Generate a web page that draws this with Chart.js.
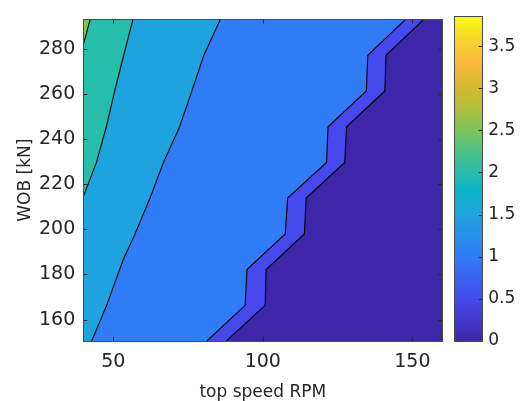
<!DOCTYPE html>
<html>
<head>
<meta charset="utf-8">
<script src="https://cdn.jsdelivr.net/npm/chart.js@4.4.0/dist/chart.umd.min.js"></script>
<style>
html,body{margin:0;padding:0;background:#fff;}
#wrap{position:relative;width:522px;height:401px;}
#main{position:absolute;left:0;top:0;width:522px;height:401px;}
#bar{position:absolute;left:440px;top:0;width:82px;height:401px;}
</style>
</head>
<body>
<div id="wrap">
  <div id="main"><canvas id="contour"></canvas></div>
  <div id="bar"><canvas id="colorbar"></canvas></div>
</div>
<script>
/* ============================================================
   DATA  (top speed RPM vs WOB kN, filled contours)
============================================================ */

const xLimits = [40, 160];
const yLimits = [150.5, 293.1];
const xTicks = [50, 100, 150];
const yTicks = [160, 180, 200, 220, 240, 260, 280];

const cbLimits = [0, 3.855];
const cbTicks = [0, 0.5, 1, 1.5, 2, 2.5, 3, 3.5];

// contour levels and the lines, [rpm, kN]
const levels = [0.5, 1.0, 1.5, 2.0, 2.5];
const contour05 = [[87.8,150.5],[100.8,166.3],[101.1,182.2],[113.9,198.0],[114.5,213.9],[127.4,229.7],[128.0,245.5],[140.8,261.4],[141.2,277.2],[153.8,293.1]];
const contour10 = [[81.3,150.5],[94.1,166.3],[94.7,182.2],[107.5,198.0],[108.3,213.9],[121.3,229.7],[121.8,245.5],[134.6,261.4],[135.1,277.2],[147.7,293.1]];
const contour15 = [[42.8,150.5],[47.8,166.3],[53.3,186.4],[57.3,198.0],[62.3,213.9],[66.8,229.7],[72.2,245.5],[76.3,261.4],[80.3,277.2],[85.8,293.1]];
const contour20 = [[40,214.5],[44.4,229.7],[47.7,245.5],[50.5,261.4],[53.5,277.2],[56.6,293.1]];
const contour25 = [[40,281.8],[42.3,293.1]];


/* ============================================================
   COLOURS (parula)
============================================================ */

const parula = [
    [0.000,"#3e26a8"],
    [0.130,"#4549ec"],
    [0.259,"#307bf6"],
    [0.389,"#1fa3df"],
    [0.460,"#0cb4ca"],
    [0.519,"#27bdab"],
    [0.600,"#58c27c"],
    [0.649,"#7dc45c"],
    [0.720,"#b3bf3c"],
    [0.778,"#d4b92f"],
    [0.860,"#fbba3d"],
    [0.930,"#f5d92b"],
    [1.000,"#f9fb0e"]
];

const bandColors = ["#3e26a8","#4549ec","#307bf6","#1fa3df","#27bdab","#7dc45c"];

const textColor = "#262626";
const fontFamily = "'DejaVu Sans', sans-serif";


/* ============================================================
   HELPERS
============================================================ */

function toPoints(arr){
    return arr.map(p => ({x:p[0], y:p[1]}));
}

// region above a contour level = left of the line, closed along the axes
function regionOf(line){
    const pts = toPoints(line);
    pts.push({x:xLimits[0], y:yLimits[1]});
    if(line[0][0] !== xLimits[0]){
        pts.push({x:xLimits[0], y:line[0][1]});
    }
    return pts;
}

const boxPlugin = {
    id:"box",
    afterDraw(chart){
        const {ctx, chartArea:a, scales} = chart;
        ctx.save();
        ctx.strokeStyle = textColor;
        ctx.lineWidth = 1;
        ctx.beginPath();
        xTicks.forEach(v => {
            const px = Math.round(scales.x.getPixelForValue(v)) + 0.5;
            ctx.moveTo(px, a.bottom); ctx.lineTo(px, a.bottom - 4);
            ctx.moveTo(px, a.top); ctx.lineTo(px, a.top + 4);
        });
        yTicks.forEach(v => {
            const py = Math.round(scales.y.getPixelForValue(v)) + 0.5;
            ctx.moveTo(a.left, py); ctx.lineTo(a.left + 4, py);
            ctx.moveTo(a.right, py); ctx.lineTo(a.right - 4, py);
        });
        ctx.stroke();
        ctx.strokeStyle = "#4a4a4a";
        ctx.strokeRect(Math.round(a.left) + 0.5, Math.round(a.top) + 0.5,
            Math.round(a.right - a.left), Math.round(a.bottom - a.top));
        ctx.restore();
    }
};


/* ============================================================
   CONTOUR PLOT
============================================================ */

const contours = [contour05, contour10, contour15, contour20, contour25];

const datasets = [];

datasets.push({
    data:[
        {x:xLimits[0], y:yLimits[0]},
        {x:xLimits[1], y:yLimits[0]},
        {x:xLimits[1], y:yLimits[1]},
        {x:xLimits[0], y:yLimits[1]}
    ],
    showLine:true,
    fill:"shape",
    backgroundColor:bandColors[0],
    borderWidth:0,
    pointRadius:0,
    order:20
});

contours.forEach((line, i) => {
    datasets.push({
        label:"≥ " + levels[i],
        data:regionOf(line),
        showLine:true,
        fill:"shape",
        backgroundColor:bandColors[i + 1],
        borderWidth:0,
        pointRadius:0,
        order:19 - i
    });
});

contours.forEach((line, i) => {
    datasets.push({
        label:"level " + levels[i],
        data:toPoints(line),
        showLine:true,
        fill:false,
        borderColor:"#000000",
        borderWidth:1.1,
        pointRadius:0,
        order:1
    });
});

new Chart(document.getElementById("contour"),{

    type:"scatter",

    data:{ datasets:datasets },

    options:{
        responsive:true,
        maintainAspectRatio:false,
        animation:false,
        events:[],
        layout:{ padding:{ left:0, right:79.7, top:12, bottom:0 } },
        plugins:{
            legend:{ display:false },
            tooltip:{ enabled:false }
        },
        scales:{
            x:{
                type:"linear",
                min:xLimits[0],
                max:xLimits[1],
                afterBuildTicks:s => { s.ticks = xTicks.map(v => ({value:v})); },
                afterFit:s => { s.height = 60; },
                grid:{ display:false, drawTicks:false },
                border:{ display:false },
                ticks:{ color:textColor, padding:10, font:{ family:fontFamily, size:19 } },
                title:{
                    display:true,
                    text:"top speed RPM",
                    color:textColor,
                    padding:{ top:0, bottom:-2 },
                    font:{ family:fontFamily, size:17 }
                }
            },
            y:{
                type:"linear",
                min:yLimits[0],
                max:yLimits[1],
                afterBuildTicks:s => { s.ticks = yTicks.map(v => ({value:v})); },
                afterFit:s => { s.width = 83.3; },
                grid:{ display:false, drawTicks:false },
                border:{ display:false },
                ticks:{ color:textColor, padding:8, font:{ family:fontFamily, size:19 } },
                title:{
                    display:true,
                    text:"WOB [kN]",
                    color:textColor,
                    padding:{ top:15, bottom:15 },
                    font:{ family:fontFamily, size:17 }
                }
            }
        }
    },

    plugins:[boxPlugin]

});


/* ============================================================
   COLORBAR
============================================================ */

const cbPlugin = {
    id:"cbbox",
    afterDraw(chart){
        const {ctx, chartArea:a, scales} = chart;
        ctx.save();
        ctx.strokeStyle = textColor;
        ctx.lineWidth = 1;
        ctx.beginPath();
        cbTicks.forEach(v => {
            const py = Math.round(scales.y.getPixelForValue(v)) + 0.5;
            ctx.moveTo(a.right, py); ctx.lineTo(a.right - 3.5, py);
        });
        ctx.stroke();
        ctx.strokeStyle = "#4a4a4a";
        ctx.strokeRect(Math.round(a.left) + 0.5, Math.round(a.top) + 0.5,
            Math.round(a.right - a.left), Math.round(a.bottom - a.top));
        ctx.restore();
    }
};

new Chart(document.getElementById("colorbar"),{

    type:"bar",

    data:{
        labels:["z"],
        datasets:[{
            data:[cbLimits],
            barPercentage:1,
            categoryPercentage:1,
            borderWidth:0,
            backgroundColor:(c) => {
                const chart = c.chart;
                if(!chart.chartArea) return bandColors[0];
                const y = chart.scales.y;
                const g = chart.ctx.createLinearGradient(0, y.getPixelForValue(cbLimits[0]), 0, y.getPixelForValue(cbLimits[1]));
                parula.forEach(s => g.addColorStop(s[0], s[1]));
                return g;
            }
        }]
    },

    options:{
        responsive:true,
        maintainAspectRatio:false,
        animation:false,
        events:[],
        layout:{ padding:{ left:14.3, right:0, top:12, bottom:60 } },
        plugins:{
            legend:{ display:false },
            tooltip:{ enabled:false }
        },
        scales:{
            x:{ display:false },
            y:{
                position:"right",
                min:cbLimits[0],
                max:cbLimits[1],
                afterBuildTicks:s => { s.ticks = cbTicks.map(v => ({value:v})); },
                afterFit:s => { s.width = 39.7; },
                grid:{ display:false, drawTicks:false },
                border:{ display:false },
                ticks:{
                    color:textColor,
                    padding:6,
                    font:{ family:fontFamily, size:17 },
                    callback:v => String(v)
                }
            }
        }
    },

    plugins:[cbPlugin]

});
</script>
</body>
</html>
